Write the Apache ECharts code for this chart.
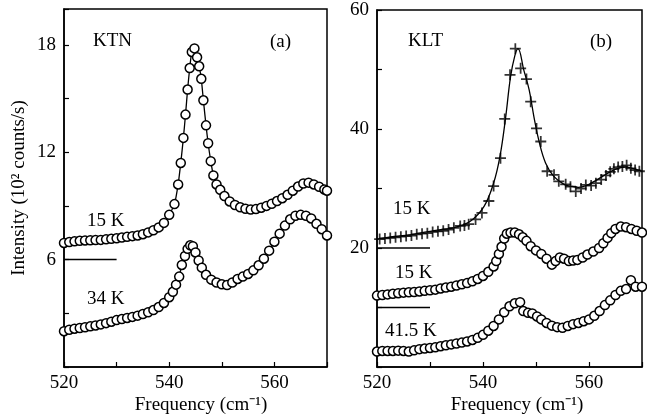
<!DOCTYPE html>
<html>
<head>
<meta charset="utf-8">
<script src="https://cdn.jsdelivr.net/npm/echarts@6/dist/echarts.min.js"></script>
<style>
  html, body { margin: 0; padding: 0; background: #fff; }
  #chart { width: 647px; height: 420px; }
</style>
</head>
<body>
<div id="chart"></div>
<script>
// tick labels
const freqTicks = [520, 540, 560]
const ktnTicks = [6, 12, 18]
const kltTicks = [20, 40, 60]

// (a) KTN, 15 K (offset by 6) and 34 K
const ktn15K = [
  [520, 6.93], [521, 6.98], [522, 7.02], [523, 7.05], [524, 7.07], [525, 7.08],
  [526, 7.09], [527, 7.1], [528, 7.13], [529, 7.16], [530, 7.19], [531, 7.23],
  [532, 7.27], [533, 7.31], [534, 7.35], [535, 7.42], [536, 7.52], [537, 7.64],
  [538, 7.8], [539, 8.05], [540, 8.5], [541, 9.1], [541.7, 10.2], [542.2, 11.4],
  [542.7, 12.8], [543.1, 14.1], [543.5, 15.5], [543.9, 16.7], [544.3, 17.6],
  [544.8, 17.8], [545.3, 17.3], [545.7, 16.8], [546.1, 16.1], [546.5, 14.9],
  [547, 13.5], [547.4, 12.5], [547.9, 11.5], [548.4, 10.7], [549, 10.2], [549.7, 9.9],
  [550.5, 9.55], [551.5, 9.25], [552.5, 9.05], [553.5, 8.92], [554.5, 8.84], [555.5, 8.8],
  [556.5, 8.82], [557.5, 8.9], [558.5, 9.0], [559.5, 9.12], [560.5, 9.27], [561.5, 9.43],
  [562.5, 9.62], [563.5, 9.85], [564.5, 10.08], [565.5, 10.25], [566.5, 10.3],
  [567.5, 10.2], [568.5, 10.07], [569.5, 9.92], [570, 9.85]
]
const ktn34K = [
  [520, 2.0], [521, 2.08], [522, 2.14], [523, 2.18], [524, 2.22], [525, 2.27],
  [526, 2.32], [527, 2.38], [528, 2.45], [529, 2.53], [530, 2.62], [531, 2.68],
  [532, 2.74], [533, 2.8], [534, 2.87], [535, 2.96], [536, 3.06], [537, 3.18],
  [538, 3.35], [539, 3.58], [540, 3.9], [540.7, 4.2], [541.3, 4.6], [541.9, 5.05],
  [542.4, 5.7], [543, 6.2], [543.5, 6.6], [544, 6.8], [544.5, 6.75], [545, 6.4],
  [545.6, 5.95], [546.2, 5.55], [547, 5.15], [548, 4.88], [549, 4.72], [550, 4.62],
  [551, 4.58], [552, 4.72], [553, 4.92], [554, 5.05], [555, 5.2], [556, 5.4],
  [557, 5.68], [558, 6.05], [559, 6.5], [560, 7.0], [561, 7.45], [562, 7.9],
  [563, 8.25], [564, 8.45], [565, 8.5], [566, 8.45], [567, 8.3], [568, 8.0],
  [569, 7.7], [570, 7.35]
]
const baseKtn = [[520, 6], [530, 6]]

// (b) KLT, 15 K (offset 20, crosses + fit), 15 K (offset 10), 41.5 K
const kltCross15K = [
  [520.5, 21.5], [521.5, 21.6], [522.5, 21.7], [523.5, 21.8], [524.5, 21.9],
  [525.5, 22.0], [526.5, 22.1], [527.5, 22.3], [528.5, 22.4], [529.5, 22.5],
  [530.5, 22.7], [531.5, 22.8], [532.5, 22.9], [533.5, 23.1], [534.5, 23.4],
  [535.7, 23.7], [536.5, 23.8], [537.3, 24.0], [538.6, 24.8], [539.8, 25.9],
  [541.1, 27.9], [542, 30.4], [543.3, 35.1], [544.1, 41.7], [545.1, 49.1],
  [546.1, 53.5], [547.1, 50.2], [548.2, 48.4], [549, 44.6], [550.1, 40.1],
  [550.9, 37.9], [552.1, 32.9], [553.4, 32.3], [554.3, 31.2], [555.6, 30.7],
  [556.5, 30.3], [557.5, 29.5], [558.5, 30.0], [559.4, 30.6], [560.4, 30.5],
  [561.3, 30.9], [562.3, 31.5], [563.2, 32.2], [564, 32.8], [564.7, 33.3],
  [565.5, 33.6], [566.3, 33.7], [567.1, 33.9], [567.9, 33.4], [568.7, 33.1],
  [569.5, 32.9]
]
const kltFit15K = [
  [520, 21.5], [522, 21.8], [524, 22.0], [526, 22.2], [528, 22.5], [530, 22.8],
  [532, 23.1], [534.5, 23.4], [537.6, 24.5], [540.2, 27.0], [542, 30.9],
  [543.2, 35.4], [544.25, 41.8], [545.2, 48.8], [546, 52.3], [546.6, 53.5],
  [547.7, 49.9], [548.7, 46.6], [549.6, 42.1], [550.5, 38.2], [551.8, 34.3],
  [553.4, 32.0], [555.3, 30.7], [556.5, 30.4], [558, 30.2], [559.5, 30.5],
  [561, 31.2], [562.5, 32.0], [564, 32.8], [565.5, 33.4], [567, 33.6],
  [568.5, 33.3], [570, 32.9]
]
const klt15K = [
  [520, 12.0], [521, 12.1], [522, 12.2], [523, 12.3], [524, 12.4], [525, 12.5],
  [526, 12.55], [527, 12.6], [528, 12.7], [529, 12.8], [530, 12.9], [531, 13.0],
  [532, 13.2], [533, 13.35], [534, 13.5], [535, 13.7], [536, 13.9], [537, 14.1],
  [538, 14.4], [539, 14.8], [540, 15.3], [541, 16.0], [542, 16.9], [542.5, 17.8],
  [543, 19.0], [543.5, 20.2], [544, 21.6], [544.5, 22.4], [545.2, 22.6], [546, 22.6],
  [546.8, 22.3], [547.5, 21.8], [548.2, 21.2], [549, 20.3], [550, 19.6], [551, 19.0],
  [552, 18.2], [553, 17.2], [553.7, 17.8], [554.5, 18.4], [555.3, 18.2], [556.2, 17.8],
  [557, 17.9], [557.8, 18.0], [558.8, 18.4], [559.7, 18.9], [560.8, 19.4],
  [561.9, 20.0], [562.7, 20.8], [563.5, 21.7], [564.2, 22.5], [565, 23.2], [566, 23.6],
  [567, 23.5], [568, 23.2], [569, 22.9], [570, 22.6]
]
const klt41K = [
  [520, 2.6], [521, 2.7], [522, 2.7], [523, 2.7], [524, 2.75], [525, 2.7],
  [526, 2.6], [527, 2.8], [528, 3.0], [529, 3.1], [530, 3.2], [531, 3.3],
  [532, 3.5], [533, 3.65], [534, 3.8], [535, 3.95], [536, 4.1], [537, 4.3],
  [538, 4.55], [539, 4.9], [540, 5.4], [541, 6.1], [542, 6.9], [543, 8.0],
  [544, 9.2], [545, 10.2], [546, 10.7], [547, 10.9], [547.6, 9.4], [548.5, 9.1],
  [549.3, 9.0], [550.2, 8.5], [551, 8.0], [552, 7.4], [553, 6.95], [554, 6.7],
  [555, 6.6], [556, 6.9], [557, 7.2], [558, 7.4], [559, 7.7], [560, 8.0],
  [561, 8.6], [562, 9.4], [563, 10.4], [564, 11.2], [565, 12.1], [566, 12.8],
  [567, 13.1], [567.9, 14.6], [568.8, 13.5], [570, 13.5]
]
const baseKlt20 = [[520, 20], [530, 20]]
const baseKlt10 = [[520, 10], [530, 10]]

const serif = 'Liberation Serif'
const black = '#000'
const crossPath = 'path://M4.2,0H5.8V4.2H10V5.8H5.8V10H4.2V5.8H0V4.2H4.2Z'

const xAxisFor = (gridIndex) => ({
  type: 'value', gridIndex, min: 520, max: 570, interval: 10,
  axisLine: { onZero: false, lineStyle: { color: black, width: 1.5 } },
  axisTick: { inside: true, length: 5, lineStyle: { color: black, width: 1.2 } },
  axisLabel: {
    color: black, fontFamily: serif, fontSize: 19, margin: 7,
    formatter: v => freqTicks.includes(v) ? String(v) : ''
  },
  splitLine: { show: false }
})

const yAxisFor = (gridIndex, max, interval, ticks, name) => ({
  type: 'value', gridIndex, min: 0, max, interval,
  name, nameLocation: 'middle', nameGap: 35,
  nameTextStyle: { color: black, fontFamily: serif, fontSize: 19 },
  axisLine: { onZero: false, lineStyle: { color: black, width: 1.5 } },
  axisTick: { inside: true, length: 5, lineStyle: { color: black, width: 1.2 } },
  axisLabel: {
    color: black, fontFamily: serif, fontSize: 19, margin: 8,
    formatter: v => ticks.includes(v) ? String(v) : ''
  },
  splitLine: { show: false }
})

const circleCurve = (data, xAxisIndex, yAxisIndex) => ({
  type: 'line', data, xAxisIndex, yAxisIndex,
  smooth: 0.2, symbol: 'circle', symbolSize: 9, showAllSymbol: true,
  lineStyle: { color: black, width: 1.3 },
  itemStyle: { color: '#fff', borderColor: black, borderWidth: 1.5 },
  animation: false
})

const baseline = (data, xAxisIndex, yAxisIndex) => ({
  type: 'line', data, xAxisIndex, yAxisIndex, symbol: 'none',
  lineStyle: { color: black, width: 1.5 }, animation: false
})

const label = (text, x, y, align) => ({
  type: 'text', x, y,
  style: { text, fill: black, font: '19px "Liberation Serif"', align: align || 'left', verticalAlign: 'middle' }
})

const chart = echarts.init(document.getElementById('chart'))
chart.setOption({
  animation: false,
  grid: [
    { left: 64, top: 9, width: 263, height: 358, show: true, borderColor: black, borderWidth: 1.5 },
    { left: 377, top: 10, width: 265, height: 357, show: true, borderColor: black, borderWidth: 1.5 }
  ],
  xAxis: [xAxisFor(0), xAxisFor(1)],
  yAxis: [
    yAxisFor(0, 20, 3, ktnTicks, 'Intensity (10² counts/s)'),
    yAxisFor(1, 60, 10, kltTicks, '')
  ],
  series: [
    baseline(baseKtn, 0, 0),
    circleCurve(ktn34K, 0, 0),
    circleCurve(ktn15K, 0, 0),
    baseline(baseKlt20, 1, 1),
    baseline(baseKlt10, 1, 1),
    circleCurve(klt41K, 1, 1),
    circleCurve(klt15K, 1, 1),
    {
      type: 'line', data: kltFit15K, xAxisIndex: 1, yAxisIndex: 1,
      smooth: 0.4, symbol: 'none', lineStyle: { color: black, width: 1.3 }
    },
    {
      type: 'scatter', data: kltCross15K, xAxisIndex: 1, yAxisIndex: 1,
      symbol: crossPath, symbolSize: 11, itemStyle: { color: black }
    }
  ],
  graphic: [
    label('KTN', 93, 41),
    label('(a)', 270, 42),
    label('15 K', 87, 221),
    label('34 K', 87, 299),
    label('KLT', 408, 41),
    label('(b)', 590, 42),
    label('15 K', 393, 209),
    label('15 K', 395, 273),
    label('41.5 K', 385, 331),
    label('Frequency (cm⁻¹)', 201, 405, 'center'),
    label('Frequency (cm⁻¹)', 517, 405, 'center')
  ]
})
</script>
</body>
</html>
